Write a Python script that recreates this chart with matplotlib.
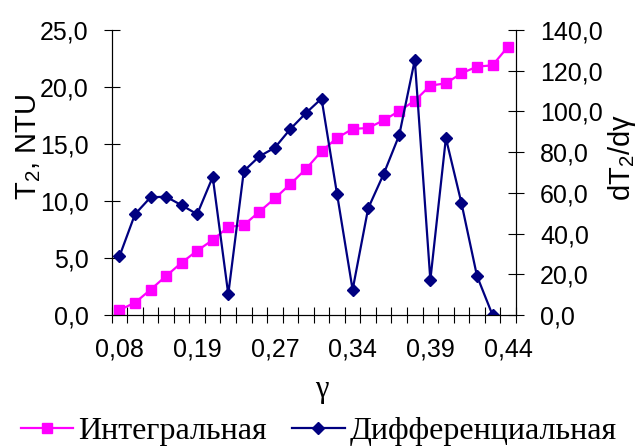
import numpy as np
import matplotlib.pyplot as plt

# integral curve T2 (left axis) and differential dT2/dgamma (right axis)
integral = [0.44, 1.08, 2.22, 3.42, 4.59, 5.64, 6.58, 7.72, 7.89, 9.06,
            10.23, 11.49, 12.81, 14.36, 15.53, 16.32, 16.40, 17.08, 17.89, 18.80,
            20.12, 20.32, 21.20, 21.78, 21.90, 23.54]
differential = [28.8, 49.5, 57.8, 58.1, 53.9, 49.5, 67.8, 10.2, 70.7, 77.9,
                82.2, 91.4, 99.2, 106.3, 59.3, 12.4, 52.4, 69.3, 88.4, 125.3,
                17.2, 86.9, 55.0, 19.2, 0.0]
gamma_labels = ["0,08", "0,19", "0,27", "0,34", "0,39", "0,44"]
label_idx = [0, 5, 10, 15, 20, 25]

pink = "#FF00FF"
navy = "#000080"
sans = "Liberation Sans"
serif = "Liberation Serif"

plt.rcParams["mathtext.fontset"] = "custom"
plt.rcParams["mathtext.rm"] = sans
plt.rcParams["mathtext.it"] = sans

fig = plt.figure(figsize=(6.4, 4.47), dpi=100)
ax = fig.add_axes([0.1745, 0.2953, 0.6315, 0.6377])
ax2 = ax.twinx()

x1 = np.arange(len(integral))
x2 = np.arange(len(differential))
l1, = ax.plot(x1, integral, color=pink, lw=1.6, marker="s", ms=7.2,
              label="Интегральная")
l2, = ax2.plot(x2, differential, color=navy, lw=1.6, marker="D", ms=6,
               label="Дифференциальная")

ax.set_xlim(-0.5, len(integral) - 0.5)
ax.set_ylim(0, 25)
ax2.set_ylim(0, 140)
ax.set_yticks(np.arange(0, 26, 5))
ax.set_yticklabels([f"{v:.1f}".replace(".", ",") for v in np.arange(0, 26, 5)],
                   family=sans, fontsize=18)
ax2.set_yticks(np.arange(0, 141, 20))
ax2.set_yticklabels([f"{v:.1f}".replace(".", ",") for v in np.arange(0, 141, 20)],
                    family=sans, fontsize=18)

ax.set_xticks(np.arange(-0.5, len(integral), 1))
ax.set_xticklabels([])
ax.set_xticks(label_idx, minor=True)
ax.set_xticklabels(gamma_labels, minor=True, family=sans, fontsize=18)
ax.tick_params(axis="x", which="minor", length=0, pad=16)
ax.tick_params(axis="x", which="major", direction="inout", length=12, width=0.8)
ax.tick_params(axis="y", direction="inout", length=12, width=0.8, pad=10.5)
ax2.tick_params(axis="y", direction="inout", length=12, width=0.8, pad=11.5)

for a in (ax, ax2):
    a.spines["top"].set_visible(False)

fig.text(0.503, 1 - 397 / 447, "γ", family=serif, fontsize=22,
         ha="center", va="baseline")
fig.text(0.044, 1 - 147 / 447, "T$_2$, NTU", family=sans, fontsize=21,
         rotation=90, ha="center", va="center")
fig.text(0.972, 1 - 157 / 447, "dT$_2$/dγ", family=sans, fontsize=21,
         rotation=90, ha="center", va="center")

fig.legend(handles=[l1, l2], loc="center", bbox_to_anchor=(0.498, 0.034),
           ncol=2, frameon=False, prop={"family": serif, "size": 23},
           handlelength=1.65, handletextpad=0.16, columnspacing=0.78,
           borderpad=0, borderaxespad=0)

fig.savefig("out.png", dpi=100)
